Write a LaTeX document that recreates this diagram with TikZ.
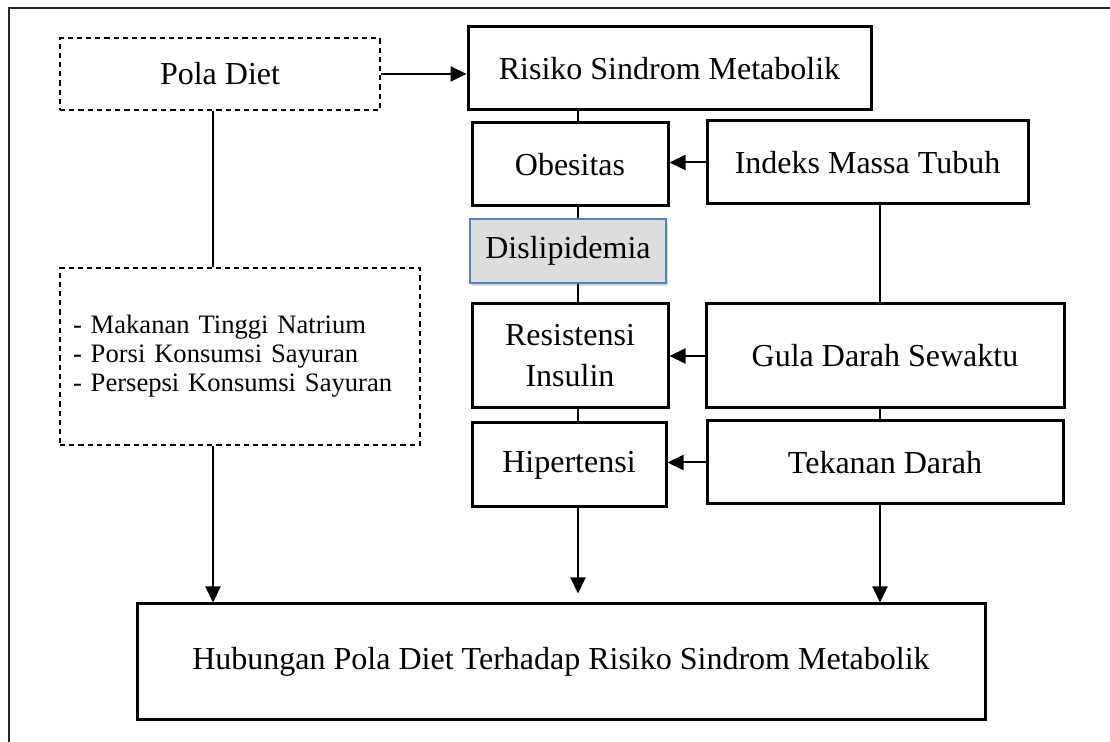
\documentclass[tikz,border=0pt]{standalone}
\usepackage{fontspec}
\setmainfont{Liberation Serif}
\usetikzlibrary{arrows.meta,shadows}
\definecolor{dlfill}{HTML}{DDDDDD}
\definecolor{dlline}{HTML}{4F81BD}

\begin{document}
\begin{tikzpicture}[x=0.5pt, y=-0.5pt,
    box/.style={draw, line width=1.5pt, align=center, inner sep=0pt, font=\fontsize{16}{20.5}\selectfont},
    dashbox/.style={box, line width=1.2pt, dash pattern=on 2.6pt off 2pt},
    link/.style={line width=1pt},
    arr/.style={link, -{Triangle[length=8pt,width=7.5pt]}}]
  \useasboundingbox (0,0) rectangle (1110,742);
  \draw[line width=1.4pt, black!85] (9,742) -- (9,8) -- (1110,8);

  % left column
  \node[dashbox, minimum width=160pt, minimum height=36pt] (pola) at (220,74) {Pola Diet};
  \node[dashbox, minimum width=180pt, minimum height=88.5pt, text width=167pt, inner xsep=6.5pt, align=left,
        font=\fontsize{13.3}{14.5}\selectfont] (list) at (240,356.5)
       {- Makanan Tinggi Natrium\\- Porsi Konsumsi Sayuran\\- Persepsi Konsumsi Sayuran};

  % middle column
  \node[box, minimum width=201.5pt, minimum height=41.5pt] (risiko) at (669.5,68.5) {Risiko Sindrom Metabolik};
  \node[box, minimum width=98pt, minimum height=41.5pt] (obes) at (570,164.5) {Obesitas};
  \node[box, draw=dlline, line width=0.7pt, fill=dlfill, minimum width=98pt, minimum height=32pt,
        drop shadow={shadow xshift=1pt, shadow yshift=-1.5pt, opacity=0.3}] (dis) at (568,251) {Dislipidemia};
  \node[box, minimum width=98pt, minimum height=52pt] (resist) at (570,356) {Resistensi\\Insulin};
  \node[box, minimum width=97pt, minimum height=42pt] (hiper) at (569,465) {Hipertensi};

  % right column
  \node[box, minimum width=160.5pt, minimum height=41.5pt] (imt) at (867.5,162.5) {Indeks Massa Tubuh};
  \node[box, minimum width=179pt, minimum height=52pt] (gds) at (885,356) {Gula Darah Sewaktu};
  \node[box, minimum width=178pt, minimum height=41.5pt] (td) at (885,462.5) {Tekanan Darah};

  % result
  \node[box, minimum width=424pt, minimum height=58pt] (hub) at (561,662) {Hubungan Pola Diet Terhadap Risiko Sindrom Metabolik};

  \coordinate (lx) at (213,0);
  \coordinate (mx) at (578,0);
  \coordinate (rx) at (880,0);

  \draw[arr] (pola.east) -- (pola.east -| risiko.west);
  \draw[link] (pola.south -| lx) -- (list.north -| lx);
  \draw[arr] (list.south -| lx) -- (hub.north -| lx);

  \draw[link] (risiko.south -| mx) -- (obes.north -| mx);
  \draw[link] (obes.south -| mx) -- (dis.north -| mx);
  \draw[link] (dis.south -| mx) -- (resist.north -| mx);
  \draw[link] (resist.south -| mx) -- (hiper.north -| mx);
  \draw[arr, shorten >=4.5pt] (hiper.south -| mx) -- (hub.north -| mx);

  \draw[arr] (imt.west) -- (imt.west -| obes.east);
  \draw[arr] (gds.west) -- (gds.west -| resist.east);
  \draw[arr] (td.west) -- (td.west -| hiper.east);
  \draw[link] (imt.south -| rx) -- (gds.north -| rx);
  \draw[link] (gds.south -| rx) -- (td.north -| rx);
  \draw[arr] (td.south -| rx) -- (hub.north -| rx);
\end{tikzpicture}
\end{document}
